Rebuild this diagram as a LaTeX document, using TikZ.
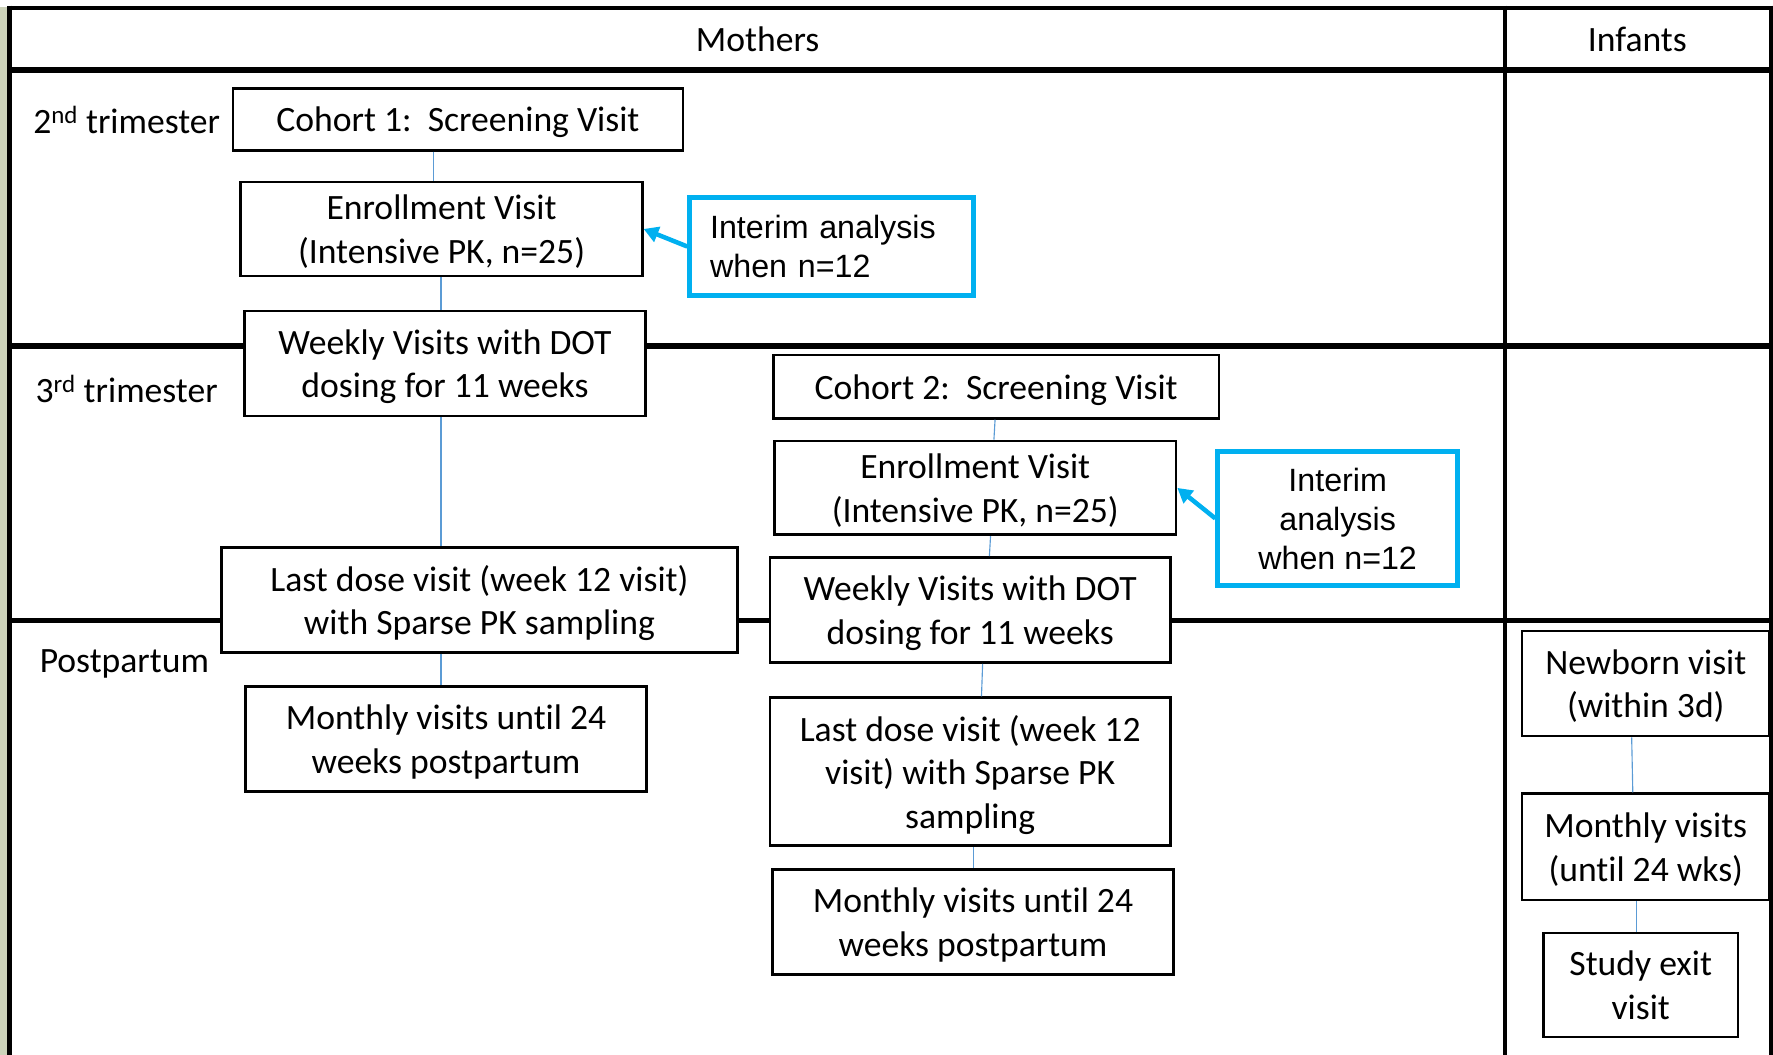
\documentclass[tikz,border=0pt]{standalone}
\usepackage{fontspec}
\setmainfont[Ligatures=NoCommon]{Carlito}
\newfontfamily\arialf{Liberation Sans}
\usetikzlibrary{arrows.meta}
\definecolor{cyanb}{HTML}{00B0F0}
\definecolor{connb}{HTML}{5B9BD5}
\definecolor{stripc}{HTML}{CDD3BA}
\begin{document}
\begin{tikzpicture}[x=1pt,y=-1pt,
  box/.style={draw=black,line width=2.4pt,fill=white,align=center,inner sep=0pt,text depth=0pt,font=\fontsize{31.5}{38.5}\selectfont},
  ibox/.style={draw=cyanb,line width=4.4pt,fill=white,inner sep=0pt,font=\arialf\fontsize{28.5}{34.5}\selectfont},
  conn/.style={draw=connb,line width=1pt},
  iarrow/.style={draw=cyanb,line width=4pt,-{Triangle[length=13pt,width=14pt]}},
  lbl/.style={font=\fontsize{31.5}{38.5}\selectfont,inner sep=0pt,text depth=0pt}]
\useasboundingbox (0,0) rectangle (1568,933);
% left strip
\fill[stripc] (0,6) rectangle (6,933);
% frame
\draw[line width=3.5pt] (8.5,7) -- (1566,7);
\draw[line width=4pt] (8.5,5) -- (8.5,933);
\draw[line width=4pt] (1566,5) -- (1566,933);
\draw[line width=4pt] (1331,5) -- (1331,933);
\draw[line width=5pt] (8.5,62) -- (1566,62);
\draw[line width=4.5pt] (8.5,306) -- (1566,306);
\draw[line width=4.5pt] (8.5,549) -- (1566,549);
% headers and row labels
\node[lbl] (mothers) at (670,35) {Mothers};
\node[lbl] (infants) at (1448,35) {Infants};
\node[lbl] (t2) at (112,106) {2\textsuperscript{nd} trimester};
\node[lbl] (t3) at (112,344) {3\textsuperscript{rd} trimester};
\node[lbl] (pp) at (110,585) {Postpartum};
% cohort 1
\node[box,minimum width=398pt,minimum height=55pt] (c1s) at (405,105.5) {Cohort 1:\ \ Screening Visit};
\node[box,minimum width=355pt,minimum height=83pt] (c1e) at (390.5,202.5) {Enrollment Visit\\(Intensive PK, n=25)};
\node[box,minimum width=355pt,minimum height=93pt] (c1w) at (393.5,321.5) {Weekly Visits with DOT\\dosing for 11 weeks};
\node[box,minimum width=456pt,minimum height=93pt] (c1l) at (424,530.5) {Last dose visit (week 12 visit)\\with Sparse PK sampling};
\node[box,minimum width=355pt,minimum height=93pt] (c1m) at (394.5,653.5) {Monthly visits until 24\\weeks postpartum};
\node[ibox,text width=215pt,inner xsep=18pt,minimum height=86pt,align=left] (i1) at (735.5,218) {Interim analysis\\when n=12};
% cohort 2
\node[box,minimum width=394pt,minimum height=56pt] (c2s) at (881,342) {Cohort 2:\ \ Screening Visit};
\node[box,minimum width=355pt,minimum height=83pt] (c2e) at (862.5,431.5) {Enrollment Visit\\(Intensive PK, n=25)};
\node[box,minimum width=354pt,minimum height=93pt] (c2w) at (858,539.5) {Weekly Visits with DOT\\dosing for 11 weeks};
\node[box,minimum width=354pt,minimum height=131pt] (c2l) at (858,682.5) {Last dose visit (week 12\\visit) with Sparse PK\\sampling};
\node[box,minimum width=355pt,minimum height=93pt] (c2m) at (860.5,815.5) {Monthly visits until 24\\weeks postpartum};
\node[ibox,align=center,text depth=0pt,minimum width=212pt,minimum height=119pt] (i2) at (1183,458.5) {Interim\\analysis\\when n=12};
% infants
\node[box,minimum width=219pt,minimum height=93pt] (n1) at (1455.5,604.5) {Newborn visit\\(within 3d)};
\node[box,minimum width=219pt,minimum height=94pt] (n2) at (1455.5,749) {Monthly visits\\(until 24 wks)};
\node[box,minimum width=172pt,minimum height=92pt] (n3) at (1451,871) {Study exit\\visit};
% connectors
\draw[conn] ([xshift=-22pt]c1s.south) -- ([xshift=-7.5pt]c1e.north);
\draw[conn] ([xshift=-0.5pt]c1e.south) -- ([xshift=-3.5pt]c1w.north);
\draw[conn] ([xshift=-3.5pt]c1w.south) -- ([xshift=-34pt]c1l.north);
\draw[conn] ([xshift=-34pt]c1l.south) -- ([xshift=-4.5pt]c1m.north);
\draw[conn] ([xshift=-1pt]c2s.south) -- ([xshift=16.5pt]c2e.north);
\draw[conn] ([xshift=13.5pt]c2e.south) -- ([xshift=17pt]c2w.north);
\draw[conn] ([xshift=11pt]c2w.south) -- ([xshift=10pt]c2l.north);
\draw[conn] ([xshift=3pt]c2l.south) -- ([xshift=0.5pt]c2m.north);
\draw[conn] ([xshift=-12.5pt]n1.south) -- ([xshift=-11.5pt]n2.north);
\draw[conn] ([xshift=-8.5pt]n2.south) -- ([xshift=-4pt]n3.north);
% interim arrows
\draw[iarrow] (i1.west) -- (c1e.east);
\draw[iarrow] (i2.west) -- (c2e.east);
\end{tikzpicture}
\end{document}
